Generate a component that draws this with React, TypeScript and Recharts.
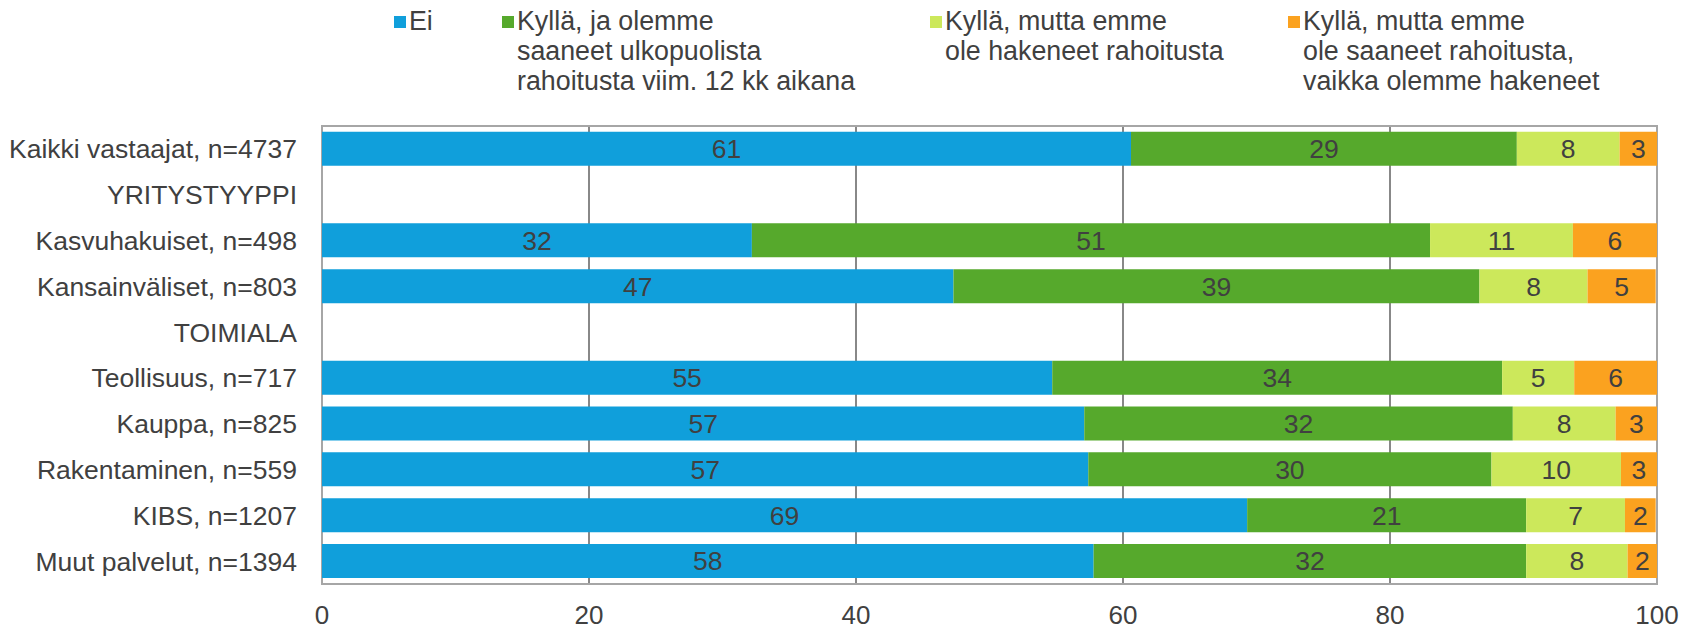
import React from 'react';
import { BarChart, Bar, XAxis, YAxis, CartesianGrid, LabelList, Legend, ReferenceArea } from 'recharts';

const categories = [
  'Kaikki vastaajat, n=4737',
  'YRITYSTYYPPI',
  'Kasvuhakuiset, n=498',
  'Kansainväliset, n=803',
  'TOIMIALA',
  'Teollisuus, n=717',
  'Kauppa, n=825',
  'Rakentaminen, n=559',
  'KIBS, n=1207',
  'Muut palvelut, n=1394',
];

const seriesNames = [
  'Ei',
  'Kyllä, ja olemme\nsaaneet ulkopuolista\nrahoitusta viim. 12 kk aikana',
  'Kyllä, mutta emme\nole hakeneet rahoitusta',
  'Kyllä, mutta emme\nole saaneet rahoitusta,\nvaikka olemme hakeneet',
];

const eiValues = [60.6, null, 32.2, 47.3, null, 54.7, 57.1, 57.4, 69.3, 57.8];
const saaneetValues = [28.9, null, 50.8, 39.4, null, 33.7, 32.1, 30.2, 20.9, 32.4];
const eiHakeneetValues = [7.7, null, 10.7, 8.1, null, 5.4, 7.7, 9.7, 7.4, 7.6];
const eiSaaneetValues = [2.8, null, 6.3, 5.1, null, 6.2, 3.1, 2.7, 2.3, 2.2];

const xTicks = [0, 20, 40, 60, 80, 100];

const colors = ['#109FDB', '#56A92C', '#CCE85B', '#FBA21F'];
const keys = ['ei', 'saaneet', 'eiHakeneet', 'eiSaaneet'];

const data = categories.map((c, i) => ({
  name: c,
  ei: eiValues[i],
  saaneet: saaneetValues[i],
  eiHakeneet: eiHakeneetValues[i],
  eiSaaneet: eiSaaneetValues[i],
}));

const FONT = '"Liberation Sans", Arial, sans-serif';
const TEXT = '#404040';
const legendX = [394, 502, 930, 1288];

const fmt = (v: any) => (v == null ? '' : String(Math.round(Number(v))));

const LegendContent = () => (
  <div style={{ position: 'relative', width: 1684, height: 0, overflow: 'visible', fontFamily: FONT }}>
    {seriesNames.map((n, i) => (
      <div key={i} style={{ position: 'absolute', left: legendX[i], top: 6, display: 'flex', alignItems: 'flex-start' }}>
        <div style={{ width: 12, height: 12, background: colors[i], marginTop: 10, marginRight: 3 }} />
        <div style={{ whiteSpace: 'pre', fontSize: 26.8, lineHeight: '30px', color: TEXT }}>{n}</div>
      </div>
    ))}
  </div>
);

export default function App() {
  return (
    <div style={{ position: 'absolute', left: 0, top: 0 }}>
      <BarChart
        width={1684}
        height={628}
        data={data}
        layout="vertical"
        margin={{ top: 126, right: 27, bottom: 0, left: 0 }}
        barCategoryGap="12.5%"
      >
        <CartesianGrid horizontal={false} vertical stroke="#888888" strokeWidth={2} />
        <XAxis
          type="number"
          domain={[0, 100]}
          ticks={xTicks}
          axisLine={false}
          tickLine={false}
          tickSize={0}
          tickMargin={22}
          height={44}
          tick={{ fill: TEXT, fontSize: 26, fontFamily: FONT }}
          interval={0}
        />
        <YAxis
          type="category"
          dataKey="name"
          width={322}
          axisLine={false}
          tickLine={false}
          tickSize={0}
          tickMargin={25}
          interval={0}
          tick={{ fill: TEXT, fontSize: 26.5, fontFamily: FONT }}
        />
        <Legend verticalAlign="top" content={<LegendContent />} wrapperStyle={{ position: 'absolute', left: 0, top: 0, width: 1684, height: 0 }} />
        {keys.map((k, i) => (
          <Bar key={k} dataKey={k} name={seriesNames[i]} stackId="a" fill={colors[i]} isAnimationActive={false}>
            <LabelList dataKey={k} position="center" formatter={fmt} fill={TEXT} fontSize={26.5} fontFamily={FONT} />
          </Bar>
        ))}
        <ReferenceArea x1={0} x2={100} fill="none" fillOpacity={0} stroke="#a6a6a6" strokeWidth={2} ifOverflow="visible" />
      </BarChart>
    </div>
  );
}
